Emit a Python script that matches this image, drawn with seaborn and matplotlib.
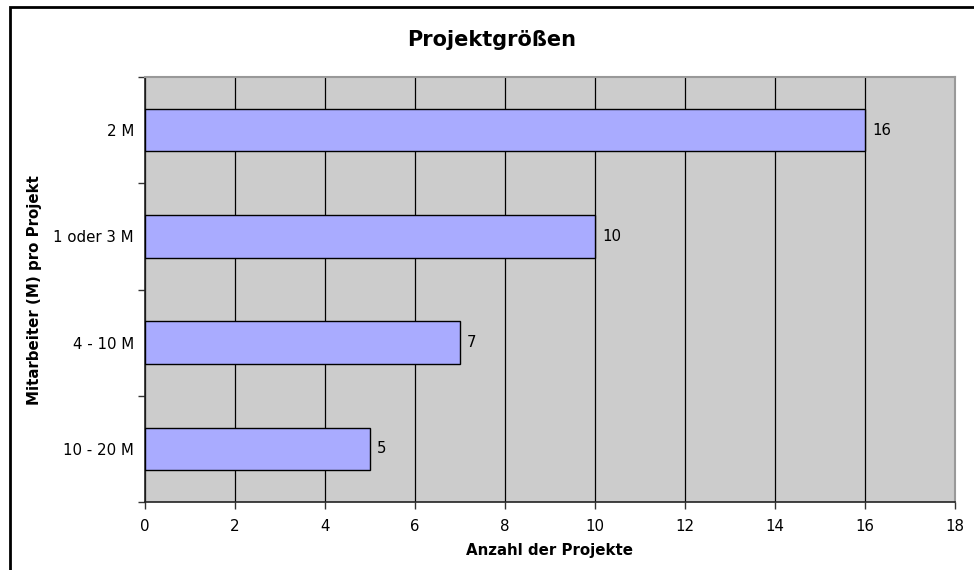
import matplotlib.pyplot as plt
import seaborn as sns
import pandas as pd
from matplotlib.patches import Rectangle
from matplotlib.ticker import FixedLocator

# data
categories = ["2 M", "1 oder 3 M", "4 - 10 M", "10 - 20 M"]
counts = [16, 10, 7, 5]
x_ticks = [0, 2, 4, 6, 8, 10, 12, 14, 16, 18]

df = pd.DataFrame({"gruppe": categories, "anzahl": counts})

sns.set_style("white")
plt.rcParams["font.family"] = ["DejaVu Sans"]
plt.rcParams["text.color"] = "black"
plt.rcParams["xtick.color"] = "#333333"
plt.rcParams["ytick.color"] = "#333333"
plt.rcParams["xtick.labelcolor"] = "black"
plt.rcParams["ytick.labelcolor"] = "black"

fig = plt.figure(figsize=(9.74, 5.70), dpi=100)
ax = fig.add_axes([145 / 974, 1 - 502 / 570, (955 - 145) / 974, (502 - 77) / 570])
ax.set_facecolor("#CCCCCC")

sns.barplot(data=df, x="anzahl", y="gruppe", orient="h", width=0.4,
            color="#A9ABFF", saturation=1, edgecolor="black", linewidth=1,
            ax=ax, zorder=3)

ax.set_xlim(0, 18)
ax.set_ylim(3.5, -0.5)
ax.set_xticks(x_ticks)
ax.xaxis.grid(True, color="black", linewidth=0.9, zorder=1)
ax.set_axisbelow(True)

# category ticks sit between the bars
ax.yaxis.set_minor_locator(FixedLocator([-0.5, 0.5, 1.5, 2.5, 3.5]))
ax.tick_params(axis="y", which="major", left=True, length=0, pad=8, labelsize=10.8)
ax.tick_params(axis="y", which="minor", left=True, length=5, width=1, direction="out")
ax.tick_params(axis="x", which="major", bottom=True, length=5, width=1,
               direction="out", pad=7, labelsize=10.8)

for s in ["left", "bottom"]:
    ax.spines[s].set_color("#222222")
    ax.spines[s].set_linewidth(1.2)
for s in ["top", "right"]:
    ax.spines[s].set_color("#999999")
    ax.spines[s].set_linewidth(1.5)

for i, v in enumerate(counts):
    ax.annotate(str(v), xy=(v, i), xytext=(5, 0), textcoords="offset points",
                va="center", ha="left", fontsize=10.8, color="black")

ax.set_xlabel("")
ax.set_ylabel("")
fig.text(550 / 974, 1 - 550 / 570, "Anzahl der Projekte", ha="center", va="center",
         fontsize=10.8, fontweight="bold")
fig.text(35 / 974, 1 - 290 / 570, "Mitarbeiter (M) pro Projekt", ha="center", va="center",
         rotation=90, fontsize=10.8, fontweight="bold")
fig.text(492 / 974, 1 - 40 / 570, "Projektgrößen", ha="center", va="center",
         fontsize=15, fontweight="bold")

# outer chart frame
fig.patches.append(Rectangle((10 / 974, -0.05), 1.0, 1 - 7 / 570 + 0.05,
                             transform=fig.transFigure, fill=False,
                             edgecolor="black", linewidth=2))

fig.savefig("out.png", dpi=100)
